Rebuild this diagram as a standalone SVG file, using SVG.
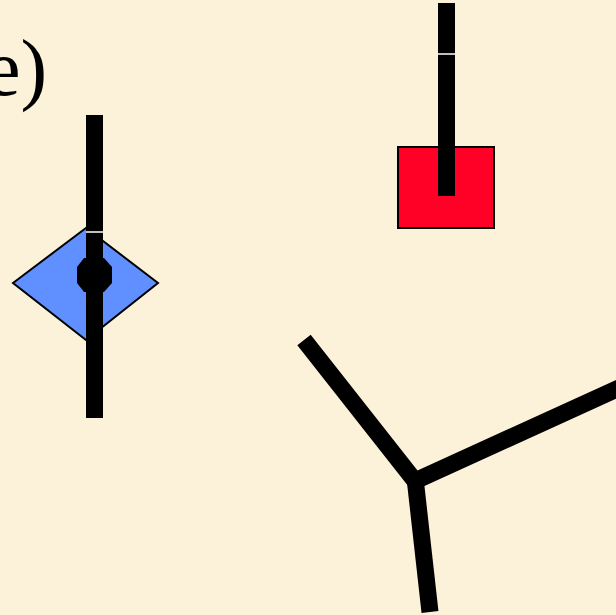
<svg xmlns="http://www.w3.org/2000/svg" width="616" height="615" viewBox="0 0 616 615">
  <style>
    .bar { stroke: #000; stroke-width: 17; stroke-linecap: butt; fill: none; }
    .gap { stroke: #fff; stroke-width: 1.5; }
    .label { font-family: "Liberation Serif", "Times New Roman", serif; font-size: 80px; fill: #000; }
  </style>
  <rect x="0" y="0" width="616" height="615" fill="#fcf2da"/>
  <text class="label" x="-15" y="95">e)</text>
  <g id="diamond-node">
    <polygon points="13,283 86,228 158,283 86,340" fill="#6090ff" stroke="#000" stroke-width="2"/>
    <line class="bar" x1="94.5" y1="115" x2="94.5" y2="418"/>
    <line class="gap" x1="86" y1="232" x2="103" y2="232"/>
    <polygon points="84,258 104,258 112,267 112,283 104,292 84,292 77,283 77,267" fill="#000"/>
  </g>
  <g id="square-node">
    <rect x="398" y="147" width="96" height="81" fill="#ff0026" stroke="#000" stroke-width="2"/>
    <line class="bar" x1="446.5" y1="3" x2="446.5" y2="196"/>
    <line class="gap" x1="438" y1="54" x2="455" y2="54"/>
  </g>
  <g id="connectors">
    <polyline class="bar" points="304,340 415,481 630,383" stroke-linejoin="miter"/>
    <line class="bar" x1="415" y1="478" x2="430" y2="612"/>
  </g>
</svg>
